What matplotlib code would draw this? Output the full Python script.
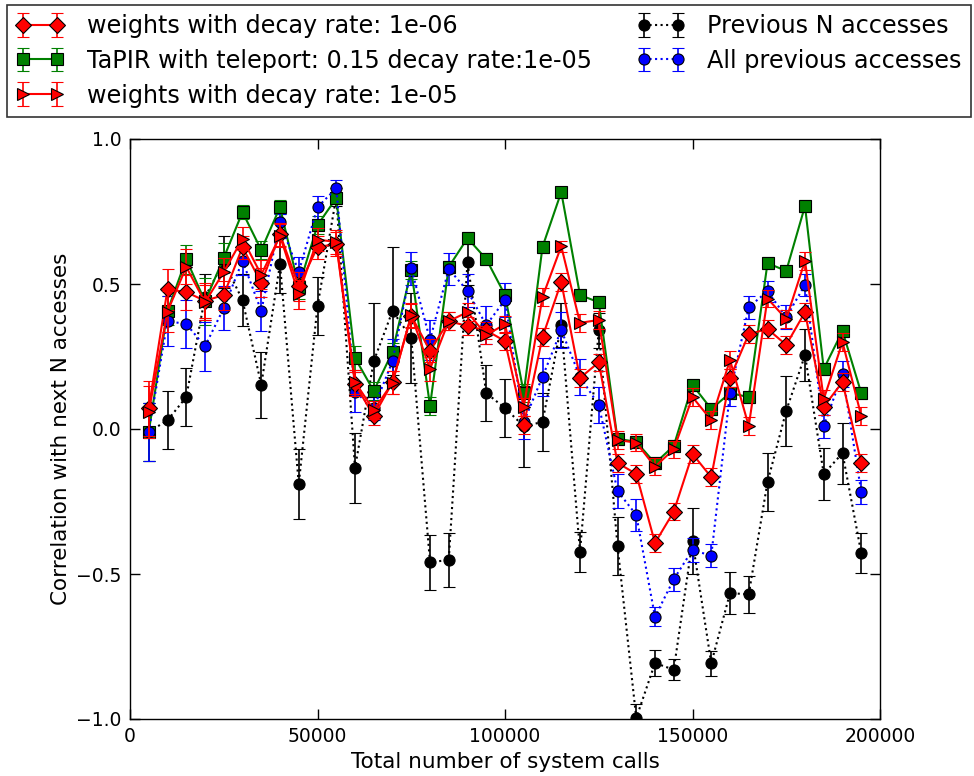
import numpy as np
import matplotlib
matplotlib.use("Agg")
import matplotlib.pyplot as plt

x = list(range(5000, 200000, 5000))

dec6 = [0.072, 0.482, 0.472, 0.442, 0.462, 0.627, 0.504, 0.672, 0.493, 0.627,
        0.638, 0.155, 0.045, 0.161, 0.39, 0.27, 0.372, 0.355, 0.34, 0.303,
        0.014, 0.317, 0.507, 0.176, 0.23, -0.117, -0.155, -0.393, -0.285, -0.086,
        -0.166, 0.176, 0.327, 0.345, 0.29, 0.403, 0.077, 0.162, -0.117]
dec6_err = [0.095, 0.07, 0.06, 0.06, 0.05, 0.04, 0.05, 0.04, 0.05, 0.04,
            0.04, 0.04, 0.03, 0.04, 0.04, 0.04, 0.03, 0.03, 0.03, 0.03,
            0.03, 0.03, 0.03, 0.03, 0.03, 0.03, 0.03, 0.03, 0.03, 0.03,
            0.03, 0.03, 0.03, 0.03, 0.03, 0.03, 0.03, 0.03, 0.03]

tapir = [-0.01, 0.407, 0.586, 0.44, 0.59, 0.748, 0.617, 0.765, 0.49, 0.703,
         0.796, 0.245, 0.131, 0.266, 0.548, 0.079, 0.559, 0.658, 0.586, 0.462,
         0.124, 0.628, 0.817, 0.462, 0.437, -0.034, -0.044, -0.118, -0.058, 0.152,
         0.069, 0.124, 0.11, 0.572, 0.545, 0.769, 0.207, 0.338, 0.124]
tapir_err = [0.1, 0.05, 0.05, 0.08, 0.05, 0.025, 0.03, 0.025, 0.04, 0.03,
             0.02, 0.04, 0.03, 0.03, 0.03, 0.03, 0.02, 0.02, 0.02, 0.02,
             0.03, 0.02, 0.01, 0.02, 0.02, 0.02, 0.02, 0.02, 0.02, 0.02,
             0.02, 0.02, 0.02, 0.02, 0.02, 0.02, 0.02, 0.02, 0.02]

dec5 = [0.06, 0.405, 0.559, 0.437, 0.541, 0.656, 0.532, 0.666, 0.465, 0.653,
        0.645, 0.162, 0.065, 0.16, 0.393, 0.207, 0.372, 0.403, 0.324, 0.361,
        0.076, 0.455, 0.63, 0.366, 0.376, -0.038, -0.047, -0.13, -0.07, 0.11,
        0.031, 0.238, 0.01, 0.45, 0.379, 0.58, 0.103, 0.3, 0.045]
dec5_err = [0.09, 0.07, 0.06, 0.06, 0.05, 0.04, 0.05, 0.04, 0.05, 0.04,
            0.04, 0.04, 0.03, 0.04, 0.04, 0.04, 0.03, 0.03, 0.03, 0.03,
            0.03, 0.03, 0.02, 0.03, 0.03, 0.03, 0.03, 0.03, 0.03, 0.03,
            0.03, 0.03, 0.03, 0.03, 0.03, 0.03, 0.03, 0.03, 0.03]

prevN = [-0.01, 0.03, 0.11, 0.455, 0.576, 0.445, 0.152, 0.569, -0.19, 0.424,
         0.80, -0.134, 0.234, 0.407, 0.314, -0.459, -0.452, 0.575, 0.124, 0.072,
         0.01, 0.024, 0.358, -0.424, 0.341, -0.403, -0.997, -0.807, -0.83, -0.386,
         -0.808, -0.566, -0.57, -0.183, 0.063, 0.255, -0.155, -0.083, -0.428]
prevN_err = [0.1, 0.1, 0.1, 0.08, 0.09, 0.09, 0.115, 0.1, 0.12, 0.1,
             0.03, 0.12, 0.2, 0.22, 0.155, 0.095, 0.093, 0.08, 0.095, 0.1,
             0.14, 0.1, 0.075, 0.068, 0.06, 0.1, 0.05, 0.046, 0.036, 0.113,
             0.043, 0.073, 0.063, 0.1, 0.12, 0.09, 0.09, 0.105, 0.07]

allprev = [-0.01, 0.372, 0.362, 0.285, 0.417, 0.58, 0.407, 0.713, 0.542, 0.765,
           0.83, 0.128, 0.072, 0.234, 0.555, 0.307, 0.552, 0.476, 0.358, 0.445,
           0.024, 0.18, 0.341, 0.18, 0.083, -0.214, -0.296, -0.648, -0.518, -0.417,
           -0.437, 0.124, 0.42, 0.475, 0.386, 0.497, 0.01, 0.19, -0.217]
allprev_err = [0.1, 0.086, 0.082, 0.085, 0.075, 0.05, 0.07, 0.03, 0.05, 0.04,
               0.03, 0.07, 0.04, 0.075, 0.057, 0.07, 0.055, 0.057, 0.065, 0.06,
               0.06, 0.066, 0.063, 0.063, 0.063, 0.06, 0.056, 0.033, 0.04, 0.04,
               0.04, 0.043, 0.04, 0.037, 0.04, 0.037, 0.04, 0.046, 0.042]

labels = ["weights with decay rate: 1e-06",
          "TaPIR with teleport: 0.15 decay rate:1e-05",
          "weights with decay rate: 1e-05",
          "Previous N accesses",
          "All previous accesses"]

fig = plt.figure(figsize=(9.74, 7.76), dpi=100)
ax = fig.add_axes([130/974, 57/776, 750/974, 580/776])

common = dict(capsize=4, elinewidth=1.2, capthick=1.2, markersize=8,
              markeredgecolor='black', markeredgewidth=0.8)

h1 = ax.errorbar(x, dec6, yerr=dec6_err, fmt='D-', color='red', ecolor='red',
                 lw=1.5, markerfacecolor='red', label=labels[0], zorder=4, **common)
h2 = ax.errorbar(x, tapir, yerr=tapir_err, fmt='s-', color='green', ecolor='green',
                 lw=1.5, markerfacecolor='green', label=labels[1], zorder=3, **common)
h3 = ax.errorbar(x, dec5, yerr=dec5_err, fmt='>-', color='red', ecolor='red',
                 lw=1.5, markerfacecolor='red', label=labels[2], zorder=5, **common)
h4 = ax.errorbar(x, prevN, yerr=prevN_err, fmt='o:', color='black', ecolor='black',
                 lw=1.5, markerfacecolor='black', label=labels[3], zorder=2, **common)
h5 = ax.errorbar(x, allprev, yerr=allprev_err, fmt='o:', color='blue', ecolor='blue',
                 lw=1.5, markerfacecolor='blue', label=labels[4], zorder=3, **common)

ax.set_xlim(0, 200000)
ax.set_ylim(-1.0, 1.0)
ax.set_xticks([0, 50000, 100000, 150000, 200000])
ax.set_yticks([-1.0, -0.5, 0.0, 0.5, 1.0])
ax.tick_params(direction='in', top=True, right=True, length=7, width=1, labelsize=13.5, pad=6)
ax.set_xlabel("Total number of system calls", fontsize=15.5)
ax.set_ylabel("Correlation with next N accesses", fontsize=15.5)
for s in ax.spines.values():
    s.set_linewidth(1)

leg = fig.legend(handles=[h1, h2, h3, h4, h5], labels=labels, ncol=2,
                 loc='upper left', bbox_to_anchor=(7/974, 1 - 5/776),
                 fontsize=17.2, numpoints=2, frameon=True, fancybox=False,
                 handlelength=2.0, borderaxespad=0, columnspacing=1.9, handletextpad=0.95,
                 labelspacing=0.45, borderpad=0.38)
leg.get_frame().set_edgecolor('black')
leg.get_frame().set_linewidth(1.2)

fig.savefig("out.png", dpi=100)
